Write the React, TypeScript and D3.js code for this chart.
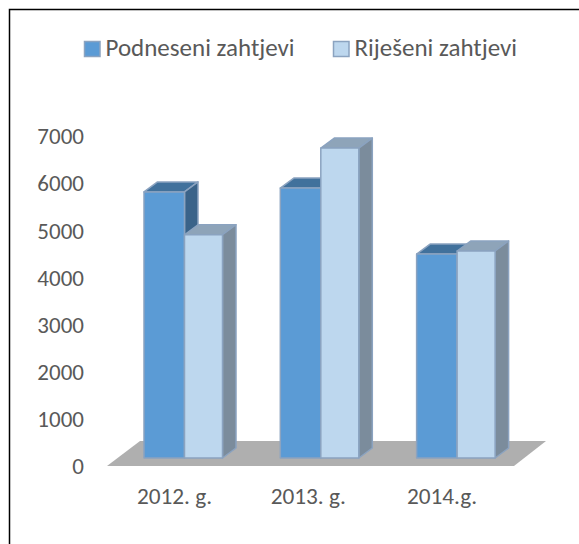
import React from "react";
import * as d3 from "d3";

const categories = ["2012. g.", "2013. g.", "2014.g."];
const submitted = [5650, 5730, 4330];
const resolved = [4740, 6580, 4395];
const seriesNames = ["Podneseni zahtjevi", "Riješeni zahtjevi"];
const ticks = [0, 1000, 2000, 3000, 4000, 5000, 6000, 7000];

const font = "Carlito, 'Open Sans', 'Noto Sans', sans-serif";
const textColor = "#595959";
const W = 579, H = 544;
const y = d3.scaleLinear().domain([0, 7000]).range([458, 128.3]);
const x0 = d3.scaleBand().domain(categories).range([144, 494.5]).paddingInner(0.4286).paddingOuter(0);
const labelX = d3.scalePoint().domain(categories).range([174.5, 442]);
const blueW = 40.5, lightW = 38;
const DX = 13.5, DY = -10;

const blue = { front: "#5b9bd5", top: "#41719c", side: "#3a6389", stroke: "#8ba3c0" };
const light = { front: "#bdd7ee", top: "#8ea4b9", side: "#7b8c9c", stroke: "#8ba3c0" };

function Bar({ x, w, v, c }: { x: number; w: number; v: number; c: typeof blue }) {
  const t = y(v), b = y(0), r = x + w;
  return (
    <g stroke={c.stroke} strokeWidth={1.5} strokeLinejoin="round">
      <polygon points={`${x},${t} ${x + DX},${t + DY} ${r + DX},${t + DY} ${r},${t}`} fill={c.top} />
      <polygon points={`${r},${t} ${r + DX},${t + DY} ${r + DX},${b + DY} ${r},${b}`} fill={c.side} />
      <rect x={x} y={t} width={w} height={b - t} fill={c.front} />
    </g>
  );
}

export default function App() {
  return (
    <svg width={W} height={H} style={{ position: "absolute", left: 0, top: 0, background: "#fff" }}>
      <path d={`M9.5,${H} V9.5 H${W}`} fill="none" stroke="#000" strokeWidth={1.5} />
      <polygon points="107,466 140,441 546,441 514,466" fill="#afafaf" />
      {ticks.map((t) => (
        <text key={t} x={84} y={y(t) + 16} textAnchor="end" fontFamily={font} fontSize={23} fill={textColor}>{t}</text>
      ))}
      {categories.map((c, i) => {
        const x = x0(c)!;
        return (
          <g key={c}>
            <Bar x={x} w={blueW} v={submitted[i]} c={blue} />
            <Bar x={x + blueW} w={lightW} v={resolved[i]} c={light} />
            <text x={labelX(c)!} y={503.5} textAnchor="middle" fontFamily={font} fontSize={23.3} fill={textColor}>{c}</text>
          </g>
        );
      })}
      {seriesNames.map((n, i) => {
        const lx = i === 0 ? 84.5 : 333.5;
        return (
          <g key={n}>
            <rect x={lx} y={41.5} width={15.5} height={15} fill={i === 0 ? blue.front : light.front} stroke={blue.stroke} strokeWidth={1.5} />
            <text x={lx + (i === 0 ? 21 : 21)} y={56} fontFamily={font} fontSize={25} fill={textColor}>{n}</text>
          </g>
        );
      })}
    </svg>
  );
}
